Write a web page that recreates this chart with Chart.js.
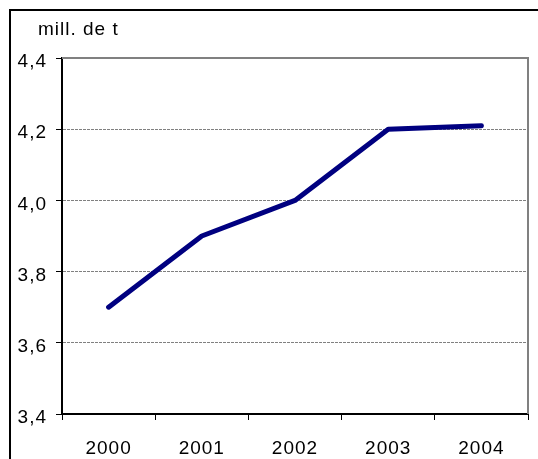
<!DOCTYPE html>
<html>
<head>
<meta charset="utf-8">
<script src="https://cdn.jsdelivr.net/npm/chart.js@4"></script>
<style>
html,body{margin:0;padding:0;background:#fff;overflow:hidden;width:538px;height:459px;}
#frame{position:absolute;left:9px;top:9px;width:700px;height:700px;border:2px solid #000;box-sizing:border-box;}
#c{position:absolute;left:0;top:0;}
</style>
</head>
<body>
<div id="frame"></div>
<canvas id="c" width="538" height="459"></canvas>
<script>
const categories = ["2000", "2001", "2002", "2003", "2004"];
const production = [3.7, 3.9, 4.0, 4.2, 4.21];
const unitLabel = "mill. de t";
const yMin = 3.4, yMax = 4.4, yStep = 0.2;

const FONT = '"Liberation Sans", Arial, sans-serif';

const framePlugin = {
  id: 'framePlugin',
  beforeDraw(chart) {
    chart.ctx.letterSpacing = '1px';
  },
  beforeDatasetsDraw(chart) {
    const {ctx, chartArea: a} = chart;
    ctx.save();
    ctx.strokeStyle = '#808080';
    ctx.lineWidth = 2;
    ctx.beginPath();
    ctx.moveTo(a.left, a.top);
    ctx.lineTo(a.right, a.top);
    ctx.lineTo(a.right, a.bottom);
    ctx.stroke();
    ctx.restore();
  },
  afterDraw(chart) {
    const {ctx} = chart;
    ctx.save();
    ctx.letterSpacing = '1px';
    ctx.fillStyle = '#000';
    ctx.font = '19px ' + FONT;
    ctx.textBaseline = 'middle';
    ctx.textAlign = 'left';
    ctx.fillText(unitLabel, 38, 30);
    ctx.restore();
  }
};

new Chart(document.getElementById('c'), {
  type: 'line',
  data: {
    labels: categories,
    datasets: [{
      data: production,
      borderColor: '#000080',
      borderWidth: 5,
      pointRadius: 0,
      tension: 0,
      fill: false,
      borderCapStyle: 'round',
      borderJoinStyle: 'round'
    }]
  },
  options: {
    responsive: false,
    animation: false,
    events: [],
    layout: {padding: {left: 0, top: 58, right: 10, bottom: 0}},
    plugins: {legend: {display: false}, tooltip: {enabled: false}, title: {display: false}},
    scales: {
      x: {
        offset: true,
        grid: {offset: true, drawOnChartArea: false, tickColor: '#000', tickLength: 6, tickWidth: 1},
        border: {color: '#000', width: 2},
        ticks: {color: '#000', font: {family: FONT, size: 19}, padding: 17, maxRotation: 0, autoSkip: false},
        afterFit(s) { s.height = 45; }
      },
      y: {
        min: yMin, max: yMax,
        grid: {
          color: (c) => (c.tick && (Math.abs(c.tick.value - yMin) < 1e-6 || Math.abs(c.tick.value - yMax) < 1e-6)) ? 'rgba(0,0,0,0)' : '#808080',
          tickColor: '#000', tickLength: 6, tickWidth: 1, lineWidth: 1
        },
        border: {color: '#000', width: 2, dash: [3, 1]},
        ticks: {
          stepSize: yStep, color: '#000', padding: 9, labelOffset: 4,
          font: {family: FONT, size: 19},
          callback: (v) => v.toFixed(1).replace('.', ',')
        },
        afterFit(s) { s.width = 62; }
      }
    }
  },
  plugins: [framePlugin]
});
</script>
</body>
</html>
